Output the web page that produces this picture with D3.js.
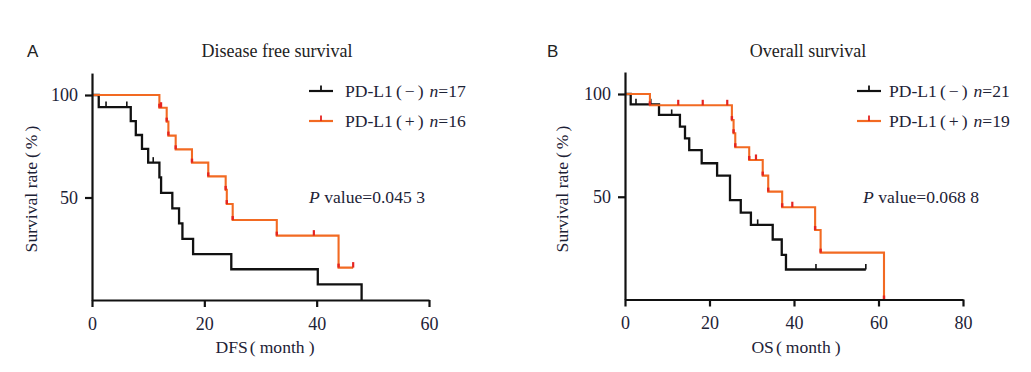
<!DOCTYPE html>
<html><head><meta charset="utf-8">
<script src="https://cdn.jsdelivr.net/npm/d3@7"></script>
<style>body{margin:0;background:#fff}svg{display:block}</style>
</head><body>
<svg id="c" width="1031" height="372"></svg>
<script>
// ---------- data ----------
const dfsNegTimes = [1.2, 6.9, 7.8, 8.9, 10.0, 12.0, 12.3, 14.3, 15.5, 16.1, 18.0, 24.8, 40.2, 48.0];
const dfsNegSurv  = [94.1, 87.3, 80.5, 73.7, 67.0, 59.8, 52.3, 44.7, 37.4, 29.8, 22.4, 15.0, 7.6, 0];
const dfsNegCensor = [2.5, 6.2, 10.9];
const dfsPosTimes = [12.0, 13.3, 13.6, 14.9, 17.8, 20.7, 23.8, 24.0, 25.05, 32.9, 43.9];
const dfsPosSurv  = [93.8, 87.0, 80.2, 73.5, 67.0, 60.3, 53.7, 46.8, 39.0, 31.4, 15.8];
const dfsPosCensor = [12.3, 39.5, 46.5];

const osNegTimes = [1.35, 8.05, 13.0, 14.2, 15.2, 18.15, 21.8, 24.85, 27.4, 29.8, 34.96, 37.1, 38.1];
const osNegSurv  = [95.0, 89.8, 84.1, 78.4, 72.7, 66.3, 60.3, 48.4, 42.3, 36.3, 29.2, 21.7, 14.6];
const osNegCensor = [2.6, 6.1, 11.05, 31.4, 45.2, 57.0];
const osPosTimes = [5.9, 25.3, 25.7, 26.1, 29.4, 32.6, 33.9, 37.2, 45.0, 46.3, 61.3];
const osPosSurv  = [94.5, 87.3, 80.9, 74.1, 67.9, 60.3, 52.5, 44.9, 33.8, 22.8, 0];
const osPosCensor = [12.6, 18.4, 24.2, 31.0, 39.6];

const dfsXTicks = [0, 20, 40, 60];
const osXTicks = [0, 20, 40, 60, 80];
const yTicks = [50, 100];
const panelLabels = ["A", "B"];
const titles = ["Disease free survival", "Overall survival"];
const xLabels = ["DFS", "OS"];
const dfsN = [17, 16];
const osN = [21, 19];
const pValues = ["0.045 3", "0.068 8"];

// ---------- style ----------
const BLACK = "#111111", ORANGE = "#f26a22", RED = "#e52421", TXT = "#1d2236";
const SERIF = "'Liberation Serif','Times New Roman',serif";
const FS = 17.6;
const svg = d3.select("#c");
svg.append("rect").attr("width", 1031).attr("height", 372).attr("fill", "#fff");

const panels = [
  { label: panelLabels[0], title: titles[0], titleX: 277, xlab: xLabels[0], xlabX: 265,
    x0: 92, x1: 429, xmax: 60, xticks: dfsXTicks, y0: 300, y100: 95,
    legX: 309, textX: 345, pX: 309, n: dfsN, p: pValues[0], labX: 27, ylabX: 31,
    neg: { t: dfsNegTimes, s: dfsNegSurv, c: dfsNegCensor },
    pos: { t: dfsPosTimes, s: dfsPosSurv, c: dfsPosCensor } },
  { label: panelLabels[1], title: titles[1], titleX: 808, xlab: xLabels[1], xlabX: 796,
    x0: 625, x1: 963, xmax: 80, xticks: osXTicks, y0: 299.5, y100: 94,
    legX: 857, textX: 889, pX: 863, n: osN, p: pValues[1], labX: 547, ylabX: 562,
    neg: { t: osNegTimes, s: osNegSurv, c: osNegCensor },
    pos: { t: osPosTimes, s: osPosSurv, c: osPosCensor } }
];

function survAt(d, t) {
  let s = 100;
  for (let i = 0; i < d.t.length; i++) if (d.t[i] <= t) s = d.s[i];
  return s;
}

panels.forEach(P => {
  const g = svg.append("g");
  const x = d3.scaleLinear().domain([0, P.xmax]).range([P.x0, P.x1]);
  const yTop = P.y100 - (P.y0 - P.y100) * 0.107;
  const y = d3.scaleLinear().domain([0, 100]).range([P.y0, P.y100]);
  const yAxisScale = d3.scaleLinear().domain([0, y.invert(yTop)]).range([P.y0, yTop]);

  // panel label
  g.append("text").attr("x", P.labX).attr("y", 57).text(P.label)
    .attr("font-family", "'Liberation Sans',Arial,sans-serif").attr("font-size", 17).attr("fill", "#222");
  // title
  g.append("text").attr("x", P.titleX).attr("y", 57).attr("text-anchor", "middle").text(P.title)
    .attr("font-family", SERIF).attr("font-size", 18).attr("fill", "#222");

  // curves
  const line = d3.line().x(d => x(d[0])).y(d => y(d[1])).curve(d3.curveStepAfter);
  [["neg", BLACK, BLACK], ["pos", ORANGE, RED]].forEach(([k, col, ccol]) => {
    const d = P[k];
    const pts = [[0, 100]];
    d.t.forEach((t, i) => pts.push([t, d.s[i]]));
    const last = d.s[d.s.length - 1];
    const endT = d3.max(d.c.concat(d.t));
    if (last > 0 && endT > d.t[d.t.length - 1]) pts.push([endT, last]);
    g.append("path").attr("d", line(pts)).attr("fill", "none").attr("stroke", col)
      .attr("stroke-width", k === "neg" ? 2.3 : 2.1).attr("stroke-linejoin", "miter");
    if (k === "pos") {
      d.t.forEach((t, i) => {
        g.append("rect").attr("x", x(t) - 1.2).attr("y", y(d.s[i]) - 4).attr("width", 2.4).attr("height", 4)
          .attr("fill", RED);
      });
    }
    d.c.forEach(t => {
      const sy = y(survAt(d, t));
      g.append("line").attr("x1", x(t)).attr("x2", x(t)).attr("y1", sy).attr("y2", sy - 5.5)
        .attr("stroke", ccol).attr("stroke-width", k === "pos" ? 2.2 : 1.6);
    });
  });

  // axes
  const xa = g.append("g").attr("transform", `translate(0,${P.y0})`)
    .call(d3.axisBottom(x).tickValues(P.xticks).tickSize(7).tickSizeOuter(0).tickPadding(10));
  const ya = g.append("g").attr("transform", `translate(${P.x0},0)`)
    .call(d3.axisLeft(yAxisScale).tickValues(yTicks).tickSize(7).tickSizeOuter(0).tickPadding(7));
  [xa, ya].forEach(a => {
    a.select(".domain").attr("stroke", BLACK).attr("stroke-width", 2.2);
    a.selectAll(".tick line").attr("stroke", BLACK).attr("stroke-width", 2.2);
    a.selectAll(".tick text").attr("font-family", SERIF).attr("font-size", 18).attr("fill", TXT);
  });
  xa.selectAll(".tick text").attr("dy", "0.71em");

  // y label
  const yl = g.append("text").attr("transform", `translate(${P.ylabX},189) rotate(-90)`)
    .attr("text-anchor", "middle").attr("dominant-baseline", "central")
    .attr("font-family", SERIF).attr("font-size", FS).attr("fill", TXT);
  yl.append("tspan").text("Survival rate");
  yl.append("tspan").attr("dx", 4).text("(");
  yl.append("tspan").attr("dx", 3).text("%");
  yl.append("tspan").attr("dx", 3).text(")");

  // x label
  const xl = g.append("text").attr("x", P.xlabX).attr("y", 353).attr("text-anchor", "middle")
    .attr("font-family", SERIF).attr("font-size", FS).attr("fill", TXT);
  xl.append("tspan").text(P.xlab);
  xl.append("tspan").attr("dx", 2).text("(");
  xl.append("tspan").attr("dx", 4).text("month");
  xl.append("tspan").attr("dx", 4).text(")");

  // legend
  [["−", BLACK, BLACK, 91, 96.5, P.n[0]], ["+", ORANGE, RED, 121, 127, P.n[1]]].forEach(([sign, col, ccol, ly, ty, n]) => {
    g.append("line").attr("x1", P.legX).attr("x2", P.legX + 24).attr("y1", ly).attr("y2", ly)
      .attr("stroke", col).attr("stroke-width", 2.2);
    g.append("line").attr("x1", P.legX + 12).attr("x2", P.legX + 12).attr("y1", ly).attr("y2", ly - 5.5)
      .attr("stroke", ccol).attr("stroke-width", 1.8);
    const t = g.append("text").attr("x", P.textX).attr("y", ty)
      .attr("font-family", SERIF).attr("font-size", FS).attr("fill", TXT);
    t.append("tspan").text("PD-L1");
    t.append("tspan").attr("dx", 3).text("(");
    t.append("tspan").attr("dx", 3).text(sign);
    t.append("tspan").attr("dx", 3).text(")");
    t.append("tspan").attr("dx", 6).attr("font-style", "italic").text("n");
    t.append("tspan").text("=" + n);
  });

  // P value
  const pv = g.append("text").attr("x", P.pX).attr("y", 203)
    .attr("font-family", SERIF).attr("font-size", FS).attr("fill", TXT);
  pv.append("tspan").attr("font-style", "italic").text("P");
  pv.append("tspan").text(" value=" + P.p);
});
</script>
</body></html>
